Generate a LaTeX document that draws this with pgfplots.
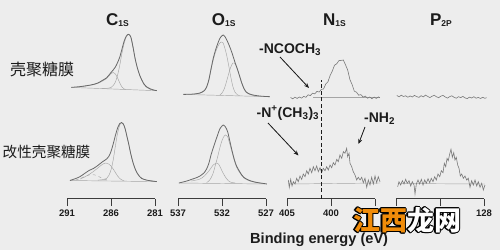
\documentclass[border=0pt]{standalone}
\usepackage{pgfplots}
\pgfplotsset{compat=1.18}
\usepackage{fontspec}
\setmainfont{Liberation Sans}
\newfontfamily\cjk{Noto Sans CJK SC}
\usetikzlibrary{arrows.meta}
\definecolor{bg}{RGB}{237,237,237}
\definecolor{txt}{RGB}{28,28,28}
\definecolor{axc}{RGB}{60,60,60}
\definecolor{envc}{RGB}{105,105,105}
\definecolor{compc}{RGB}{165,165,165}
\definecolor{noisec}{RGB}{120,120,120}
\definecolor{wmorange}{RGB}{240,140,10}
\pgfplotsset{
  panel/.style={scale only axis, width=88pt, height=198.5pt, ymin=1.5, ymax=200,
    anchor=center, axis x line=bottom, axis y line=none, x dir=reverse,
    clip=false, tick align=outside, major tick length=7.5pt, minor tick num=0,
    axis line style={-, draw=axc, line width=0.9pt},
    xtick style={draw=axc, line width=0.9pt},
    /pgf/number format/assume math mode=true,
    xticklabel style={font=\fontsize{9.5}{9.5}\selectfont\bfseries, text=txt}},
  env/.style={draw=envc, line width=0.8pt, smooth, mark=none},
  comp/.style={draw=compc, line width=0.45pt, smooth, mark=none},
  noisy/.style={draw=noisec, line width=0.6pt, sharp plot, mark=none},
  base/.style={draw=compc, line width=0.45pt, sharp plot, mark=none}
}
\begin{document}
\begin{tikzpicture}[x=1pt,y=1pt]
\path[use as bounding box, fill=bg] (0pt,0pt) rectangle (500pt,250pt);

% ---------- C1s ----------
\begin{axis}[panel, at={(111pt,150.75pt)}, xmin=281, xmax=291, xtick={281,286,291}]
\addplot[base] coordinates {(290.5,112.6) (280.8,109.3)};
\addplot[comp] coordinates {(287,111.4) (286.5,111.6) (286,112.5) (285.75,114.5) (285.5,118) (285.25,125) (285,135) (284.75,147) (284.5,157) (284.25,163.5) (284,165.7) (283.75,163) (283.5,153) (283.25,141) (283,132) (282.75,125) (282.5,120) (282.25,115.5) (282,113) (281.5,110.5) (281,109.4)};
\addplot[comp] coordinates {(289.5,113.2) (289,113.8) (288.5,114.5) (288,115.4) (287.5,116.6) (287,118.8) (286.5,121.5) (286.25,124) (286,126.5) (285.75,127.5) (285.5,126) (285.25,122) (285,117) (284.75,113) (284.5,111) (284.25,110.5)};
\addplot[env] coordinates {(290.5,112.6) (290,113) (289.5,113.4) (289,114) (288.5,114.7) (288,115.6) (287.5,117) (287,119.5) (286.5,122.2) (286,127.5) (285.75,130) (285.5,133) (285.25,137.5) (285,143) (284.75,151) (284.5,159) (284.25,164) (284,165.7) (283.75,163) (283.5,153) (283.25,141) (283,132) (282.75,125) (282.5,120) (282.25,116) (282,113.5) (281.5,111) (281,109.7) (280.8,109.3)};
% bottom
\addplot[base] coordinates {(290.66,19.5) (280.8,18.4)};
\addplot[comp] coordinates {(287.5,19.9) (287,20.3) (286.5,21.5) (286.25,24.5) (286,30) (285.75,40) (285.5,54) (285.25,67) (285,75) (284.8,77.3) (284.6,76) (284.4,71.5) (284.2,64) (284,56.5) (283.75,46) (283.5,37.5) (283.25,31) (283,26.5) (282.75,23.5) (282.5,21.5) (282,20) (281.5,19.2) (281,18.6)};
\addplot[comp] coordinates {(289.5,21) (289,23) (288.5,25.5) (288,28.5) (287.5,32) (287,35.5) (286.6,37) (286.25,36) (286,34) (285.75,31) (285.5,27.5) (285.25,24) (285,21.5) (284.75,20) (284.5,19.2)};
\addplot[comp, dashed] coordinates {(290,20) (289.5,21.5) (289,23.5) (288.5,25) (288.2,25.5) (287.8,25) (287.3,23) (286.8,21) (286.3,19.8)};
\addplot[env] coordinates {(290.66,19.5) (290,21.5) (289.5,23.5) (289,26.5) (288.5,29.5) (288,31.5) (287.5,34.5) (287,38) (286.5,41) (286.25,43.5) (286,48.5) (285.75,56) (285.5,64.5) (285.25,72) (285,76.5) (284.8,77.5) (284.6,76) (284.4,71.5) (284.2,64) (284,56.5) (283.75,46) (283.5,37.5) (283.25,31) (283,26.5) (282.75,23.5) (282.5,21.5) (282,20) (281.5,19.2) (281,18.6) (280.8,18.4)};
\end{axis}

% ---------- O1s ----------
\begin{axis}[panel, at={(222pt,150.75pt)}, xmin=527, xmax=537, xtick={527,532,537}]
\addplot[base] coordinates {(536.4,105.6) (526.55,103.3)};
\addplot[comp] coordinates {(532.25,105) (532,107) (531.75,111) (531.5,118) (531.25,126) (531,133) (530.75,137) (530.5,136) (530.25,130.5) (530,123.5) (529.75,116.5) (529.5,111) (529.25,107.8) (529,106.2) (528.5,104.8) (528,104.2)};
\addplot[comp] coordinates {(535,106) (534.5,106.8) (534.25,107.8) (534,109.3) (533.75,112.8) (533.5,119.5) (533.25,130) (533,140) (532.75,147.5) (532.5,153) (532.25,157) (532.1,158) (531.9,157.5) (531.75,154) (531.5,146) (531.25,135) (531,123) (530.75,113) (530.5,107.5) (530.25,105.2) (530,104.5)};
\addplot[env] coordinates {(536.4,105.6) (535.5,105.8) (535,106.2) (534.5,107) (534.25,108) (534,109.5) (533.75,113) (533.5,120) (533.25,131) (533,141.5) (532.75,149.5) (532.5,156) (532.25,161.5) (532,164.3) (531.85,165) (531.6,162.5) (531.3,157) (531,150.5) (530.75,144) (530.5,137) (530.25,131) (530,124) (529.75,117) (529.5,111.5) (529.25,108) (529,106.5) (528.5,105) (528,104.3) (527.5,103.8) (527,103.5) (526.55,103.3)};
% bottom
\addplot[base] coordinates {(536.9,17) (526.9,16)};
\addplot[comp] coordinates {(533.75,17.5) (533.5,19) (533.25,22) (533,27) (532.75,35) (532.5,43) (532.25,52) (532,59.5) (531.75,64) (531.6,65) (531.35,63) (531.1,55.5) (530.85,47.5) (530.6,39.5) (530.35,33) (530,27.5) (529.75,24.5) (529.5,22) (529,19.5) (528.5,18.2) (528,17.3) (527.5,16.7)};
\addplot[comp] coordinates {(535.5,19) (535,19.8) (534.5,21) (534,24) (533.5,29) (533.25,32) (533,35) (532.75,36.5) (532.6,37) (532.4,36) (532.2,33) (532,29) (531.75,25) (531.5,21.5) (531.25,19) (531,17.8) (530.5,17)};
\addplot[env] coordinates {(536.9,17) (536,19) (535.5,20.5) (535,22) (534.5,24) (534,27.5) (533.75,31) (533.5,36.5) (533.25,45) (533,52) (532.75,58.5) (532.5,65) (532.25,71) (532,74) (531.85,75) (531.6,73) (531.35,68) (531.1,58.5) (530.85,49) (530.6,40.5) (530.35,34) (530,28.5) (529.75,25) (529.5,22.5) (529,20) (528.5,18.5) (528,17.5) (527.5,16.8) (527,16.2) (526.9,16)};
\end{axis}

% ---------- N1s ----------
\begin{axis}[panel, at={(331pt,150.75pt)}, xmin=395, xmax=405, xtick={395,400,405}, xticklabels={,400,405}]
\addplot[base] coordinates {(402,102.5) (394.45,102.5)};
\addplot[noisy] coordinates {(404.6,102.5) (404.35,101.2) (404.1,102.8) (403.85,101.6) (403.6,103.0) (403.35,101.9) (403.1,103.6) (402.85,102.7) (402.6,105.2) (402.35,104.4) (402.1,106.8) (401.85,106.1) (401.6,108.6) (401.35,108.0) (401.1,110.6) (400.85,111.0) (400.6,115.9) (400.35,118.2) (400.1,124.5) (399.85,129.0) (399.6,134.8) (399.35,136.2) (399.1,139.4) (398.85,139.6) (398.6,140.0) (398.35,135.2) (398.1,129.8) (397.85,120.4) (397.6,115.4) (397.35,108.8) (397.1,107.8) (396.85,104.8) (396.6,105.4) (396.35,102.9) (396.1,103.9) (395.85,101.8) (395.6,103.0) (395.35,101.3) (395.1,102.9) (394.85,101.6) (394.6,103.1) (394.45,102.2)};
\addplot[base] coordinates {(404.85,16) (394.43,17)};
\addplot[noisy] coordinates {(404.85,20) (404.74,12.7) (404.58,20.7) (404.43,14) (404.28,18.3) (404.09,16) (403.90,21.7) (403.72,18.3) (403.52,24) (403.33,20.7) (403.15,26) (402.95,23.3) (402.76,29.3) (402.58,26) (402.39,31.7) (402.19,27.3) (402.01,33.3) (401.82,29.3) (401.63,34) (401.44,28.3) (401.25,32.3) (401.06,27.3) (400.88,31.7) (400.68,29.3) (400.49,33.3) (400.31,30) (400.11,35) (399.92,32.3) (399.74,37.3) (399.55,35) (399.35,40.7) (399.17,38.3) (398.98,45) (398.78,41.7) (398.60,48.3) (398.41,46.7) (398.22,51.7) (398.11,43.3) (397.95,46.7) (397.84,36.7) (397.65,33.3) (397.47,28.3) (397.27,25) (397.08,20) (396.90,22.7) (396.70,20) (396.51,22.7) (396.33,17.3) (396.14,21.7) (395.94,12.7) (395.76,20) (395.57,15) (395.38,22.7) (395.19,16) (395.00,24) (394.81,17.3) (394.63,23.3) (394.43,18.3)};
\addplot[draw=txt, line width=1pt, dash pattern=on 4pt off 2.5pt, mark=none] coordinates {(401.1,1.5) (401.1,120)};
\end{axis}

% ---------- P2p ----------
\begin{axis}[panel, at={(440pt,150.75pt)}, xmin=128, xmax=138, xtick={128,133,138}, xticklabels={128,,}]
\addplot[noisy] coordinates {(137.9,104.5) (137.65,103.2) (137.4,104.8) (137.15,103.5) (136.9,104.2) (136.65,102.8) (136.4,104.0) (136.15,103.0) (135.9,104.6) (135.65,103.4) (135.4,102.6) (135.15,104.3) (134.9,103.1) (134.65,104.9) (134.4,103.6) (134.15,102.4) (133.9,103.8) (133.65,104.7) (133.4,103.2) (133.15,102.3) (132.9,103.9) (132.65,104.6) (132.4,103.0) (132.15,101.9) (131.9,103.4) (131.65,104.2) (131.4,102.7) (131.15,101.8) (130.9,103.3) (130.65,102.4) (130.4,103.6) (130.15,102.1) (129.9,101.4) (129.65,102.9) (129.4,102.0) (129.15,103.3) (128.9,101.8) (128.65,102.6) (128.4,101.5) (128.15,102.7) (127.9,101.7) (127.7,102.3)};
\addplot[base] coordinates {(137.8,16.5) (127.9,16)};
\addplot[noisy] coordinates {(137.81,13.3) (137.66,18.3) (137.47,15) (137.28,19.3) (137.09,16) (136.90,20.7) (136.72,16.7) (136.52,19.3) (136.33,14) (136.15,18.3) (135.95,15) (135.84,6) (135.69,16) (135.50,20) (135.31,16) (135.12,20.7) (134.93,15) (134.74,20) (134.56,16.7) (134.36,21.3) (134.17,17.3) (133.99,21.7) (133.80,18.3) (133.60,23.3) (133.42,20) (133.23,26) (133.03,23.3) (132.85,29.3) (132.66,27.3) (132.51,36.7) (132.35,33.3) (132.20,41.7) (132.06,39.3) (131.90,46) (131.75,50.7) (131.60,42.7) (131.44,47.3) (131.30,40) (131.15,42.7) (130.99,35) (130.84,31.7) (130.69,24) (130.53,26) (130.35,21.7) (130.16,24) (129.97,20) (129.78,21.7) (129.59,12.7) (129.40,19.3) (129.22,15) (129.02,20) (128.83,14) (128.65,18.3) (128.45,12.7) (128.26,16.7) (128.08,10) (127.89,15)};
\end{axis}

% ---------- texts ----------
\tikzset{ttl/.style={anchor=base, inner sep=0, text=txt, font=\fontsize{17}{17}\selectfont\bfseries},
  ann/.style={anchor=base west, inner sep=0, text=txt, font=\fontsize{14}{14}\selectfont\bfseries}}
\newcommand{\sub}[1]{\raisebox{-1.2pt}{\fontsize{8.5}{8.5}\selectfont #1}}
\node[ttl] at (117.5pt,225pt) {C\sub{1S}};
\node[ttl] at (223.7pt,225pt) {O\sub{1S}};
\node[ttl] at (334.5pt,225pt) {N\sub{1S}};
\node[ttl] at (441pt,225pt) {P\sub{2P}};
\node[anchor=west, inner sep=0, text=txt, font=\cjk\fontsize{16}{16}\selectfont] at (10pt,181pt) {壳聚糖膜};
\node[anchor=west, inner sep=0, text=txt, font=\cjk\fontsize{14.6}{14.6}\selectfont] at (2.5pt,98pt) {改性壳聚糖膜};
\node[ann] at (259pt,197pt) {-NCOCH\textsubscript{3}};
\node[ann] at (256.5pt,133pt) {-N\textsuperscript{+}(CH\textsubscript{3})\textsubscript{3}};
\node[ann] at (364pt,128pt) {-NH\textsubscript{2}};
\draw[-{Stealth[length=5pt,width=4pt]}, draw=txt, fill=txt, line width=0.8pt] (280pt,193pt) -- (309pt,162pt);
\draw[-{Stealth[length=5pt,width=4pt]}, draw=txt, fill=txt, line width=0.8pt] (268pt,127pt) -- (298.5pt,94.5pt);
\draw[-{Stealth[length=5pt,width=4pt]}, draw=txt, fill=txt, line width=0.8pt] (365pt,123pt) -- (358.5pt,106pt);
\node[anchor=base west, inner sep=0, text=txt, font=\fontsize{14.6}{14.6}\selectfont\bfseries] at (250pt,7pt) {Binding energy (eV)};

% ---------- watermark ----------
\foreach \dx/\dy in {-1.2/0,1.2/0,0/-1.2,0/1.2,-0.85/-0.85,0.85/0.85,-0.85/0.85,0.85/-0.85}{
  \node[inner sep=0, text=black, font=\cjk\bfseries\fontsize{27}{27}\selectfont, xshift=\dx pt, yshift=\dy pt] at (407pt,30pt) {江西龙网};
}
\node[inner sep=0, font=\cjk\bfseries\fontsize{27}{27}\selectfont] at (407pt,30pt) {\textcolor{wmorange}{江西}\textcolor{white}{龙网}};
\end{tikzpicture}
\end{document}
